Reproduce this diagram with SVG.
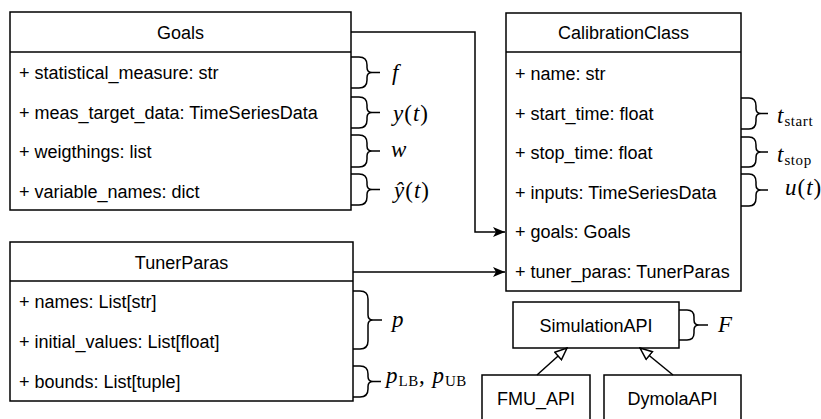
<svg xmlns="http://www.w3.org/2000/svg" width="821" height="419" viewBox="0 0 821 419">
  <style>
    .box { fill: #ffffff; stroke: #000000; stroke-width: 1.5; }
    .div { stroke: #000000; stroke-width: 1.5; fill: none; }
    .txt { font-family: "Liberation Sans", Arial, sans-serif; font-size: 18px; fill: #000000; }
    .mid { text-anchor: middle; }
    .edge { fill: none; stroke: #000000; stroke-width: 1.5; }
    .brace { fill: none; stroke: #000000; stroke-width: 1.5; stroke-linejoin: round; }
    .math { font-family: "Liberation Serif", "Times New Roman", serif; font-size: 23px; font-style: italic; fill: #000000; letter-spacing: 1px; }
    .rm { font-style: normal; }
    .sub { font-style: normal; font-size: 15px; letter-spacing: 0.6px; }
  </style>
  <defs>
    <marker id="arrowFilled" viewBox="0 0 12 10" refX="12" refY="5" markerWidth="12" markerHeight="10" orient="auto" markerUnits="userSpaceOnUse">
      <path d="M0,0 L12,5 L0,10 L3,5 Z" fill="#000000"/>
    </marker>
    <marker id="arrowHollow" viewBox="0 0 14 12" refX="13" refY="6" markerWidth="14" markerHeight="12" orient="auto" markerUnits="userSpaceOnUse">
      <path d="M1,1 L13,6 L1,11 Z" fill="#ffffff" stroke="#000000" stroke-width="1.5" stroke-linejoin="miter"/>
    </marker>
  </defs>

  <!-- class Goals -->
  <g id="goals">
    <rect class="box" x="10" y="12" width="341" height="198"/>
    <line class="div" x1="10" y1="52" x2="351" y2="52"/>
    <text class="txt mid" x="180.5" y="39">Goals</text>
    <text class="txt" x="19" y="79">+ statistical_measure: str</text>
    <text class="txt" x="19" y="118.5">+ meas_target_data: TimeSeriesData</text>
    <text class="txt" x="19" y="158">+ weigthings: list</text>
    <text class="txt" x="19" y="197.5">+ variable_names: dict</text>
  </g>

  <!-- class CalibrationClass -->
  <g id="calibration-class">
    <rect class="box" x="506" y="13" width="235" height="278"/>
    <line class="div" x1="506" y1="52" x2="741" y2="52"/>
    <text class="txt mid" x="623.5" y="39">CalibrationClass</text>
    <text class="txt" x="515" y="80">+ name: str</text>
    <text class="txt" x="515" y="119.5">+ start_time: float</text>
    <text class="txt" x="515" y="159">+ stop_time: float</text>
    <text class="txt" x="515" y="198.5">+ inputs: TimeSeriesData</text>
    <text class="txt" x="515" y="238">+ goals: Goals</text>
    <text class="txt" x="515" y="277.5">+ tuner_paras: TunerParas</text>
  </g>

  <!-- class TunerParas -->
  <g id="tuner-paras">
    <rect class="box" x="10" y="242" width="343" height="159"/>
    <line class="div" x1="10" y1="281" x2="353" y2="281"/>
    <text class="txt mid" x="181.5" y="269">TunerParas</text>
    <text class="txt" x="19" y="308">+ names: List[str]</text>
    <text class="txt" x="19" y="348">+ initial_values: List[float]</text>
    <text class="txt" x="19" y="388">+ bounds: List[tuple]</text>
  </g>

  <!-- simulation API classes -->
  <g id="simulation-api">
    <rect class="box" x="513" y="302" width="166" height="46"/>
    <text class="txt mid" x="596" y="331.5">SimulationAPI</text>
  </g>
  <g id="fmu-api">
    <rect class="box" x="482" y="375" width="108" height="47"/>
    <text class="txt mid" x="536" y="405">FMU_API</text>
  </g>
  <g id="dymola-api">
    <rect class="box" x="604" y="375" width="137" height="47"/>
    <text class="txt mid" x="672.5" y="405">DymolaAPI</text>
  </g>

  <!-- connectors -->
  <g id="connectors">
    <path class="edge" d="M351,32 H475 V232 H505" marker-end="url(#arrowFilled)"/>
    <path class="edge" d="M353,272 H505" marker-end="url(#arrowFilled)"/>
    <path class="edge" d="M537,375 L567,348" marker-end="url(#arrowHollow)"/>
    <path class="edge" d="M673,375 L640,348" marker-end="url(#arrowHollow)"/>
  </g>

  <!-- curly braces with math symbols -->
  <g id="annotations">
    <path class="brace" d="M351,57 H359 Q367,57 367,65 V67.5 Q367,72.5 372,72.5 Q367,72.5 367,77.5 V80 Q367,88 359,88 H351 M372,72.5 H380"/>
    <path class="brace" d="M351,97 H359 Q367,97 367,105 V107.5 Q367,112.5 372,112.5 Q367,112.5 367,117.5 V120 Q367,128 359,128 H351 M372,112.5 H380"/>
    <path class="brace" d="M351,135 H359 Q367,135 367,143 V146 Q367,151 372,151 Q367,151 367,156 V159 Q367,167 359,167 H351 M372,151 H380"/>
    <path class="brace" d="M351,174 H359 Q367,174 367,182 V184.5 Q367,189.5 372,189.5 Q367,189.5 367,194.5 V197 Q367,205 359,205 H351 M372,189.5 H380"/>

    <path class="brace" d="M741,98 H749 Q756,98 756,106 V108.5 Q756,113.5 761,113.5 Q756,113.5 756,118.5 V121 Q756,129 749,129 H741 M761,113.5 H768"/>
    <path class="brace" d="M741,137 H749 Q756,137 756,145 V147 Q756,152 761,152 Q756,152 756,157 V159 Q756,167 749,167 H741 M761,152 H768"/>
    <path class="brace" d="M741,174 H749 Q756,174 756,182 V185 Q756,190 761,190 Q756,190 756,195 V198 Q756,206 749,206 H741 M761,190 H768"/>

    <path class="brace" d="M353,291 H360 Q368,291 368,299 V315 Q368,320 373,320 Q368,320 368,325 V341 Q368,349 360,349 H353 M373,320 H382"/>
    <path class="brace" d="M353,366 H360 Q368,366 368,374 V376.5 Q368,381.5 373,381.5 Q368,381.5 368,386.5 V389 Q368,397 360,397 H353 M373,381.5 H381"/>

    <path class="brace" d="M679,310 H687 Q694,310 694,317 V320 Q694,325 699,325 Q694,325 694,330 V333 Q694,340 687,340 H679 M699,325 H708"/>

    <text class="math" x="392" y="80">f</text>
    <text class="math" x="393" y="121">y<tspan class="rm">(</tspan>t<tspan class="rm">)</tspan></text>
    <text class="math" x="391" y="157">w</text>
    <text class="math" x="394" y="198">ŷ<tspan class="rm">(</tspan>t<tspan class="rm">)</tspan></text>

    <text class="math" x="777" y="123">t<tspan class="sub" dy="3">start</tspan></text>
    <text class="math" x="777" y="162">t<tspan class="sub" dy="3">stop</tspan></text>
    <text class="math" x="785" y="195">u<tspan class="rm">(</tspan>t<tspan class="rm">)</tspan></text>

    <text class="math" x="392" y="327">p</text>
    <text class="math" x="386" y="383">p<tspan class="sub" dy="3">LB</tspan><tspan class="rm" dy="-3">, </tspan>p<tspan class="sub" dy="3">UB</tspan></text>

    <text class="math" x="718" y="332">F</text>
  </g>
</svg>
